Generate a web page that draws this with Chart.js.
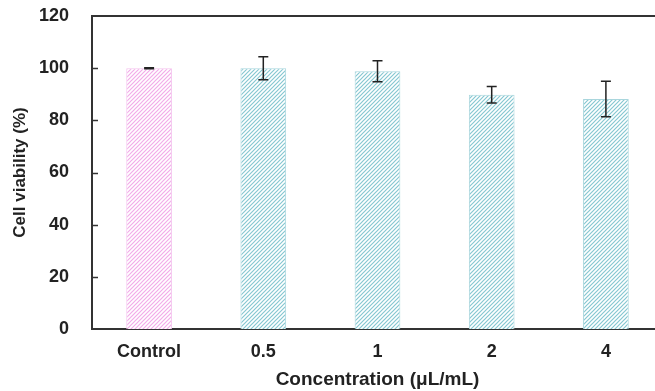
<!DOCTYPE html>
<html>
<head>
<meta charset="utf-8">
<script src="https://cdn.jsdelivr.net/npm/chart.js@4"></script>
<style>
  html, body { margin: 0; padding: 0; background: #fff; overflow: hidden; }
  #wrap { width: 655px; height: 391px; overflow: hidden; }
  #wrap canvas { display: block; }
</style>
</head>
<body>
<div id="wrap"><canvas id="chart" width="670" height="391"></canvas></div>
<script>
const categories = ["Control", "0.5", "1", "2", "4"];
const viability = [100, 100, 98.8, 89.8, 88.2];
const errors = [0.2, 4.4, 4.0, 3.2, 6.8];
const yTicks = [0, 20, 40, 60, 80, 100, 120];

// diagonal hatch fill like the original
function hatch(lineColor) {
    const c = document.createElement("canvas");
    c.width = 4;
    c.height = 4;
    const g = c.getContext("2d");
    g.fillStyle = "#ffffff";
    g.fillRect(0, 0, 4, 4);
    g.strokeStyle = lineColor;
    g.lineWidth = 1.2;
    g.beginPath();
    g.moveTo(-1, 5); g.lineTo(5, -1);
    g.moveTo(-1, 1); g.lineTo(1, -1);
    g.moveTo(3, 5); g.lineTo(5, 3);
    g.stroke();
    return g.createPattern(c, "repeat");
}

const ctx = document.getElementById("chart").getContext("2d");
const pinkFill = hatch("#f2ace9");
const tealFill = hatch("#86c7d1");

const font = { family: "'Liberation Sans', Arial, sans-serif", weight: "bold" };

// error bars, inward y ticks and top frame line
const extras = {
    id: "extras",
    afterDatasetsDraw(chart) {
        const c = chart.ctx;
        const xs = chart.scales.x;
        const ys = chart.scales.y;
        const area = chart.chartArea;
        c.save();
        c.strokeStyle = "#222";
        c.lineWidth = 1.5;
        viability.forEach((v, i) => {
            const x = xs.getPixelForValue(i);
            const top = ys.getPixelForValue(v + errors[i]);
            const bot = ys.getPixelForValue(v - errors[i]);
            c.beginPath();
            c.moveTo(x, top); c.lineTo(x, bot);
            c.moveTo(x - 5, top); c.lineTo(x + 5, top);
            c.moveTo(x - 5, bot); c.lineTo(x + 5, bot);
            c.stroke();
        });
        c.strokeStyle = "#333";
        c.lineWidth = 1.5;
        yTicks.forEach(t => {
            if (t === 0 || t === 120) return;
            const y = Math.round(ys.getPixelForValue(t)) + 0.5;
            c.beginPath();
            c.moveTo(area.left, y); c.lineTo(area.left + 6, y);
            c.stroke();
        });
        c.lineWidth = 2;
        c.beginPath();
        c.moveTo(area.left - 1, area.top); c.lineTo(area.right + 10, area.top);
        c.stroke();
        c.restore();
    }
};

new Chart(ctx, {
    type: "bar",
    data: {
        labels: categories,
        datasets: [{
            label: "Cell viability",
            data: viability,
            backgroundColor: categories.map((c, i) => i === 0 ? pinkFill : tealFill),
            borderColor: categories.map((c, i) => i === 0 ? "#f4c4ee" : "#a9d6dd"),
            borderWidth: 1,
            barPercentage: 0.4,
            categoryPercentage: 1
        }]
    },
    options: {
        responsive: false,
        animation: false,
        layout: { padding: { top: 16, right: 7, left: 10, bottom: 0 } },
        plugins: {
            legend: { display: false },
            tooltip: { enabled: false }
        },
        scales: {
            x: {
                grid: { display: false, drawTicks: false },
                border: { color: "#333", width: 2 },
                ticks: {
                    color: "#222",
                    font: { ...font, size: 18 },
                    padding: 12
                },
                title: {
                    display: true,
                    text: "Concentration (μL/mL)",
                    color: "#222",
                    font: { ...font, size: 19 },
                    padding: { top: 4, bottom: 0 }
                },
                afterFit(scale) { scale.height = 62; }
            },
            y: {
                min: 0,
                max: 120,
                afterBuildTicks(scale) { scale.ticks = yTicks.map(v => ({ value: v })); },
                grid: { display: false, drawTicks: false },
                border: { color: "#333", width: 2 },
                ticks: {
                    color: "#222",
                    font: { ...font, size: 18 },
                    padding: 23
                },
                title: {
                    display: true,
                    text: "Cell viability (%)",
                    color: "#222",
                    font: { ...font, size: 17 },
                    padding: { top: 0, bottom: 2 }
                },
                afterFit(scale) {
                    scale.width = 82;
                    scale.paddingTop = 0;
                    scale.paddingBottom = 0;
                }
            }
        }
    },
    plugins: [extras]
});
</script>
</body>
</html>
